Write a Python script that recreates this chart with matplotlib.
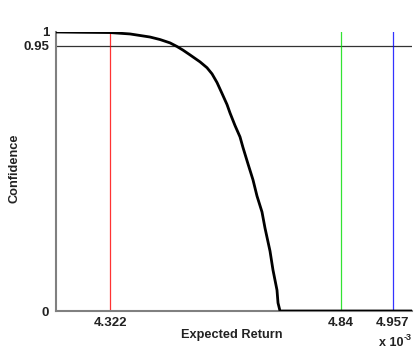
import matplotlib
matplotlib.use("Agg")
import matplotlib.pyplot as plt

plt.rcParams['font.family'] = ['Liberation Sans', 'DejaVu Sans']

# Confidence curve vs expected return (x 1e-3)
expected_return = [4.2000, 4.2539, 4.3213, 4.3663, 4.4112, 4.4337, 4.4562, 4.4719,
                   4.4854, 4.5011, 4.5236, 4.5393, 4.5506, 4.5618, 4.5730, 4.5843,
                   4.5910, 4.6022, 4.6135, 4.6202, 4.6315, 4.6427, 4.6517, 4.6629,
                   4.6697, 4.6809, 4.6876, 4.6966, 4.6989, 4.7034, 5.0000]
confidence = [1.000, 0.999, 0.998, 0.993, 0.982, 0.973, 0.961, 0.948,
              0.935, 0.918, 0.893, 0.872, 0.850, 0.819, 0.780, 0.740,
              0.710, 0.665, 0.624, 0.586, 0.527, 0.470, 0.412, 0.355,
              0.297, 0.215, 0.147, 0.075, 0.029, 0.000, 0.000]

# Reference returns
marker_returns = [4.322, 4.84, 4.957]
marker_colors = ['#ff0000', '#00dd00', '#0000ff']
threshold = 0.95

x_ticks = [4.322, 4.84, 4.957]
x_tick_labels = ['4.322', '4.84', '4.957']
y_ticks = [0, 0.95, 1]
y_tick_labels = ['0', '0.95', '1']

fig = plt.figure(figsize=(4.15, 3.49), dpi=100)
ax = fig.add_axes([56/415, 1 - 311/349, 356/415, (311 - 32)/349])

ax.set_xlim(4.2, 5.0)
ax.set_ylim(0, 1)

ax.axhline(threshold, color='#333333', lw=0.9, zorder=1)
for xr, col in zip(marker_returns, marker_colors):
    ax.plot([xr, xr], [0, 1], color=col, lw=0.9, alpha=0.8, zorder=1)

ax.plot(expected_return, confidence, color='black', lw=2.0, zorder=3,
        solid_joinstyle='round')

ax.set_xticks(x_ticks)
ax.set_xticklabels(x_tick_labels, fontweight='bold', fontsize=9.5)
ax.set_yticks(y_ticks)
ax.set_yticklabels(y_tick_labels, fontweight='bold', fontsize=9.5)
ax.tick_params(length=0, colors='#222222')
ax.tick_params(axis='x', pad=4)
ax.tick_params(axis='y', pad=5)

for side in ['top', 'right']:
    ax.spines[side].set_visible(False)
for side in ['left', 'bottom']:
    ax.spines[side].set_color('#808080')
    ax.spines[side].set_linewidth(1.5)
    ax.spines[side].set_zorder(2)

fig.text(232/415, 1 - 335/349, 'Expected Return', ha='center', va='center',
         fontsize=9.2, fontweight='bold', color='#222222')
fig.text(14/415, 1 - 168/349, 'Confidence', ha='center', va='center',
         rotation=90, fontsize=9.2, fontweight='bold', color='#222222')
fig.text(379/415, 1 - 343/349, 'x 10', ha='left', va='center',
         fontsize=9, fontweight='bold', color='#222222')
fig.text(404/415, 1 - 337/349, '-3', ha='left', va='center',
         fontsize=6.5, fontweight='bold', color='#222222')

fig.savefig('out.png', dpi=100, facecolor='white')
